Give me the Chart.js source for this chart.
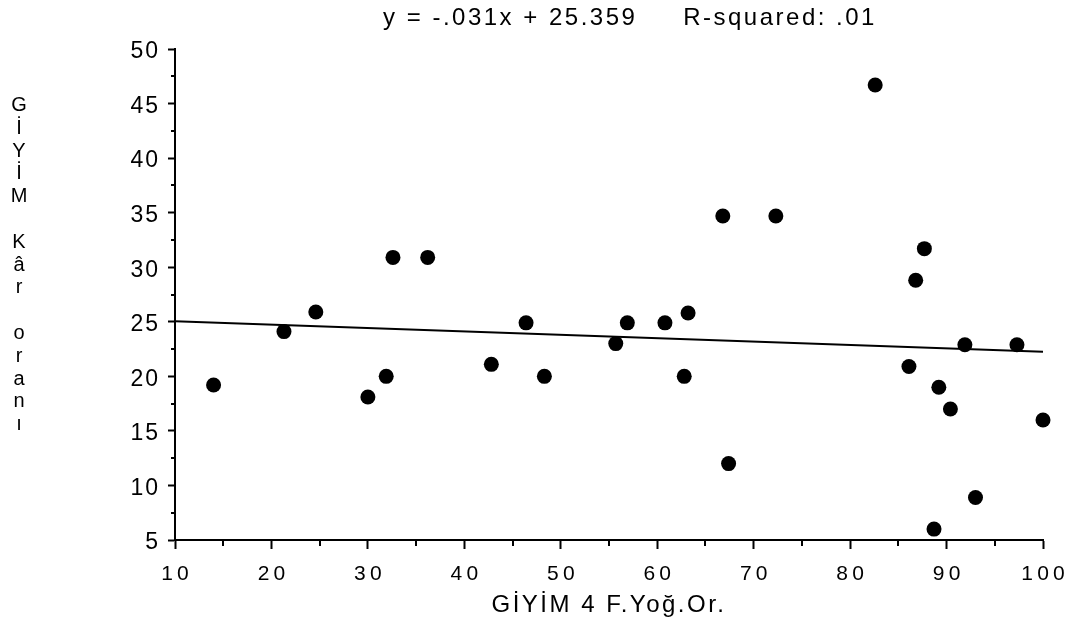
<!DOCTYPE html>
<html>
<head>
<meta charset="utf-8">
<script src="https://cdn.jsdelivr.net/npm/chart.js@4.4.1/dist/chart.umd.min.js"></script>
<style>
  html, body { margin: 0; padding: 0; background: #ffffff; }
  canvas { display: block; }
</style>
</head>
<body>
<canvas id="grafik" width="1081" height="621"></canvas>
<script>
// GİYİM: 4 firma yoğunluk oranı (x) ve kâr oranı (y)
const yogunlukOrani = [14.0, 21.3, 24.6, 30.0, 31.9, 32.6, 36.2, 42.8, 46.4, 48.3, 55.7, 56.9,
                       60.8, 62.8, 63.2, 66.8, 67.4, 72.3, 82.6, 86.1, 86.8, 87.7, 88.7, 89.2,
                       90.4, 91.9, 93.0, 97.3, 100.0];
const karOrani = [19.2, 24.1, 25.9, 18.1, 20.0, 30.9, 30.9, 21.1, 24.9, 20.0, 23.0, 24.9,
                  24.9, 20.0, 25.8, 34.7, 12.0, 34.7, 46.7, 20.9, 28.8, 31.7, 6.0, 19.0,
                  17.0, 22.9, 8.9, 22.9, 16.0];

// regresyon doğrusu: y = egim * x + sabit
const egim = -0.031;
const sabit = 25.359;
const rKare = '.01';

// eksen aralıkları
const xEksen = { min: 10, max: 100, adim: 10 };
const yEksen = { min: 5, max: 50, adim: 5 };

const baslik = 'y = -.031x + 25.359     R-squared: ' + rKare;
const xBaslik = 'GİYİM 4 F.Yoğ.Or.';
const yBaslikHarfleri = ['G', 'İ', 'Y', 'İ', 'M', '', 'K', 'â', 'r', '', 'o', 'r', 'a', 'n', 'ı'];

const noktalar = yogunlukOrani.map((x, i) => ({ x: x, y: karOrani[i] }));
const dogru = [xEksen.min, xEksen.max].map(x => ({ x: x, y: egim * x + sabit }));

const aralikli = sep => v => String(v).split('').join(sep);
const YAZI = '"Liberation Sans", Arial, sans-serif';

// ara çentikler: ana çentiklerin orta noktaları
const araCentikler = {
  id: 'araCentikler',
  afterDraw(chart) {
    const ctx = chart.ctx;
    const xs = chart.scales.x, ys = chart.scales.y;
    const area = chart.chartArea;
    ctx.save();
    ctx.strokeStyle = '#000';
    ctx.lineWidth = 2;
    ctx.beginPath();
    for (let i = 0; i < xs.ticks.length - 1; i++) {
      const v = (xs.ticks[i].value + xs.ticks[i + 1].value) / 2;
      const px = Math.round(xs.getPixelForValue(v));
      ctx.moveTo(px, area.bottom);
      ctx.lineTo(px, area.bottom + 6);
    }
    for (let i = 0; i < ys.ticks.length - 1; i++) {
      const v = (ys.ticks[i].value + ys.ticks[i + 1].value) / 2;
      const py = Math.round(ys.getPixelForValue(v));
      ctx.moveTo(area.left - 4, py);
      ctx.lineTo(area.left, py);
    }
    ctx.stroke();
    ctx.restore();
  }
};

// başlık ve eksen yazıları
const yazilar = {
  id: 'yazilar',
  afterDraw(chart) {
    const ctx = chart.ctx;
    const area = chart.chartArea;
    ctx.save();
    ctx.fillStyle = '#000';
    ctx.textBaseline = 'alphabetic';
    ctx.textAlign = 'center';

    ctx.font = '24px ' + YAZI;
    ctx.letterSpacing = '2.5px';
    ctx.fillText(baslik, 630, 25);

    ctx.font = '24px ' + YAZI;
    ctx.letterSpacing = '2.5px';
    ctx.fillText(xBaslik, (area.left + area.right) / 2, 612);

    ctx.font = '20px ' + YAZI;
    ctx.letterSpacing = '0px';
    yBaslikHarfleri.forEach((h, i) => {
      if (h) ctx.fillText(h, 19, 111 + i * 22.8);
    });
    ctx.restore();
  }
};

new Chart(document.getElementById('grafik'), {
  type: 'scatter',
  data: {
    datasets: [
      {
        data: noktalar,
        backgroundColor: '#000',
        borderColor: '#000',
        borderWidth: 0,
        pointRadius: 7.5,
        pointHoverRadius: 7.5,
        clip: false
      },
      {
        data: dogru,
        showLine: true,
        borderColor: '#000',
        borderWidth: 2,
        pointRadius: 0,
        fill: false
      }
    ]
  },
  options: {
    responsive: false,
    animation: false,
    events: [],
    layout: { padding: { left: 0, top: 49, right: 38, bottom: 0 } },
    plugins: {
      legend: { display: false },
      tooltip: { enabled: false },
      title: { display: false }
    },
    scales: {
      x: {
        type: 'linear',
        min: xEksen.min,
        max: xEksen.max,
        ticks: {
          stepSize: xEksen.adim,
          color: '#000',
          font: { family: YAZI, size: 21 },
          padding: 13,
          maxRotation: 0,
          autoSkip: false,
          callback: aralikli('\u2009')
        },
        grid: {
          drawOnChartArea: false,
          drawTicks: true,
          tickLength: 9,
          tickWidth: 2,
          tickColor: '#000'
        },
        border: { display: true, color: '#000', width: 2 },
        afterFit(s) { s.height = 81; }
      },
      y: {
        type: 'linear',
        min: yEksen.min,
        max: yEksen.max,
        ticks: {
          stepSize: yEksen.adim,
          color: '#000',
          font: { family: YAZI, size: 23 },
          padding: 10,
          labelOffset: 3,
          autoSkip: false,
          callback: aralikli('\u200A')
        },
        grid: {
          drawOnChartArea: false,
          drawTicks: true,
          tickLength: 7,
          tickWidth: 2,
          tickColor: '#000'
        },
        border: { display: true, color: '#000', width: 2 },
        afterFit(s) { s.width = 175; }
      }
    }
  },
  plugins: [araCentikler, yazilar]
});
</script>
</body>
</html>
